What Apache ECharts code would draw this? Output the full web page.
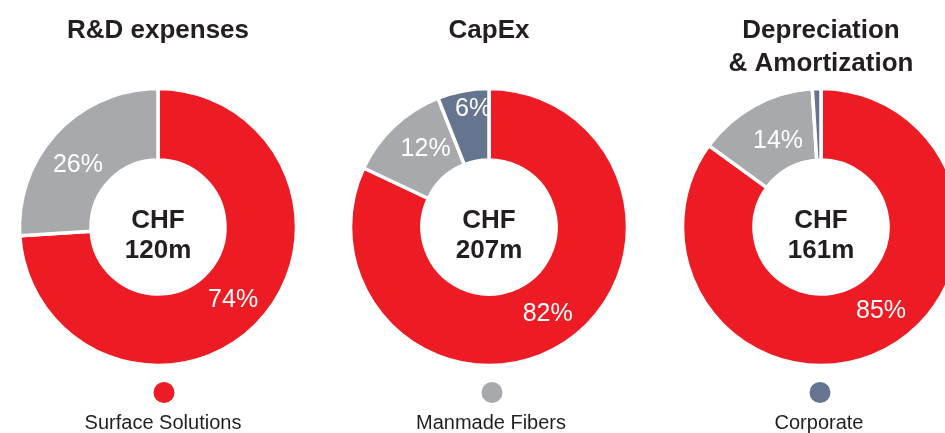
<!DOCTYPE html>
<html><head><meta charset="utf-8">
<script src="https://cdn.jsdelivr.net/npm/echarts@6/dist/echarts.min.js"></script>
<style>html,body{margin:0;padding:0;background:#fff}#c{width:945px;height:433px}</style>
</head><body><div id="c"></div>
<script>
// ---- data ----
const segments = ['Surface Solutions', 'Manmade Fibers', 'Corporate'];
const chartTitles = ['R&D expenses', 'CapEx', 'Depreciation\n& Amortization'];
const totals = ['CHF\n120m', 'CHF\n207m', 'CHF\n161m'];
const rdValues = [74, 26];
const capexValues = [82, 12, 6];
const daValues = [85, 14, 1];

// ---- styling / layout ----
const colors = ['#ED1C24', '#A7A9AC', '#66758F'];
const centersX = [158, 489, 821];
const centerY = 227;
const labelOffsets = [
  [[-2, 1], [-3, 11]],
  [[2, -2], [9, -1], [4, -14]],
  [[12, -10], [8, 7], null]
];
const font = '"Liberation Sans", Arial, Helvetica, sans-serif';
const allValues = [rdValues, capexValues, daValues];

const series = allValues.map((vals, ci) => ({
  type: 'pie',
  center: [centersX[ci], centerY],
  radius: [67, 138.5],
  startAngle: 90,
  clockwise: true,
  silent: true,
  avoidLabelOverlap: false,
  itemStyle: { borderColor: '#fff', borderWidth: 3.5 },
  label: {
    show: true, position: 'inside', formatter: '{c}%',
    color: '#fff', fontSize: 25, fontFamily: font
  },
  labelLine: { show: false },
  data: vals.map((v, i) => {
    const off = labelOffsets[ci][i];
    return {
      name: segments[i], value: v,
      itemStyle: { color: colors[i] },
      label: off ? { offset: off } : { show: false }
    };
  })
}));

const titles = [];
chartTitles.forEach((t, ci) => {
  titles.push({
    text: t, left: centersX[ci], top: 14, textAlign: 'center', padding: 0,
    textStyle: { fontFamily: font, fontWeight: 'bold', fontSize: 26, lineHeight: 33, color: '#231F20' }
  });
  titles.push({
    text: totals[ci], left: centersX[ci], top: 206, textAlign: 'center', padding: 0,
    textStyle: { fontFamily: font, fontWeight: 'bold', fontSize: 26, lineHeight: 30, color: '#231F20' }
  });
});
const legendX = [163, 491, 819];
const legends = segments.map((s, i) => ({
  data: [s], left: legendX[i] - 11.5, top: 380, padding: 0,
  icon: 'circle', itemWidth: 23, itemHeight: 23, itemGap: 0,
  selectedMode: false, formatter: () => '', textStyle: { fontSize: 1, padding: 0 }
}));
segments.forEach((s, i) => {
  titles.push({
    text: s, left: legendX[i], top: 413, textAlign: 'center', padding: 0,
    textStyle: { fontFamily: font, fontWeight: 'normal', fontSize: 20, color: '#231F20' }
  });
});

const chart = echarts.init(document.getElementById('c'), null, { renderer: 'canvas' });
chart.setOption({
  backgroundColor: '#fff',
  animation: false,
  title: titles,
  legend: legends,
  series: series
});
</script></body></html>
